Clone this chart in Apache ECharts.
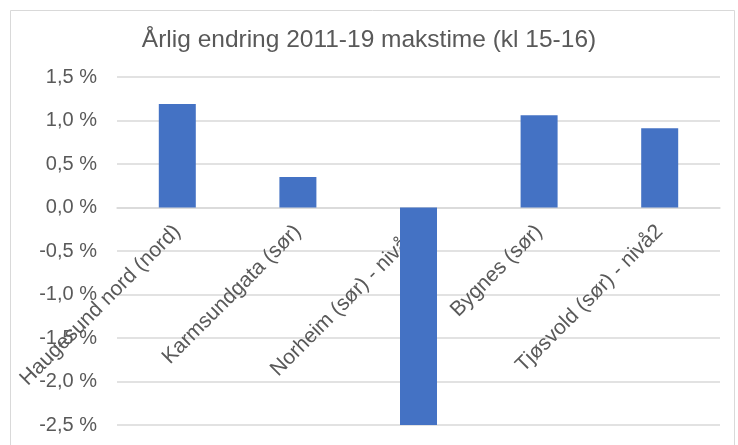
<!DOCTYPE html>
<html>
<head>
<meta charset="utf-8">
<script src="https://cdn.jsdelivr.net/npm/echarts@6/dist/echarts.min.js"></script>
<style>html,body{margin:0;padding:0;background:#fff}#c{width:738px;height:445px}</style>
</head>
<body>
<div id="c"></div>
<script>
const titleText = 'Årlig endring 2011-19 makstime (kl 15-16)';
const categories = ['Haugesund nord (nord)', 'Karmsundgata (sør)', 'Norheim (sør) - nivå 1', 'Bygnes (sør)', 'Tjøsvold (sør) - nivå2'];
const values = [1.19, 0.35, -2.5, 1.06, 0.91];
const yMin = -2.5, yMax = 1.5, yStep = 0.5;

const W = 738, H = 445;
const gTop = 77, gBottom = 20;
const gHeight = H - gTop - gBottom;
const zeroPx = gTop + gHeight * (yMax / (yMax - yMin));
const labelOffset = -((H - gBottom) - zeroPx);

const chart = echarts.init(document.getElementById('c'));
const font = 'Liberation Sans, Arial, sans-serif';
chart.setOption({
  animation: false,
  backgroundColor: '#ffffff',
  graphic: [{
    type: 'rect', left: 8, top: 8, silent: true,
    shape: { width: 724, height: 440 },
    style: { fill: 'none', stroke: '#d9d9d9', lineWidth: 1 }
  }],
  title: {
    text: titleText, left: 'center', top: 23,
    textStyle: { fontFamily: font, fontSize: 24.5, fontWeight: 'normal', color: '#595959' }
  },
  grid: { left: 117, right: 18, top: gTop, bottom: gBottom, containLabel: false, outerBoundsMode: 'none' },
  xAxis: [{
    type: 'category', data: categories,
    axisLine: { onZero: true, lineStyle: { color: '#d9d9d9', width: 1.5 } },
    axisTick: { show: false },
    axisLabel: { show: false },
    z: 1
  }, {
    type: 'category', data: categories, position: 'bottom', offset: labelOffset,
    axisLine: { show: false, onZero: false },
    axisTick: { show: false },
    splitLine: { show: false },
    axisLabel: { rotate: 45, margin: 21, interval: 0, fontFamily: font, fontSize: 21, color: '#595959' },
    z: 1
  }],
  yAxis: {
    type: 'value', min: yMin, max: yMax, interval: yStep,
    axisLine: { show: false }, axisTick: { show: false },
    splitLine: { lineStyle: { color: '#d9d9d9', width: 1.5 } },
    axisLabel: {
      margin: 20, fontFamily: font, fontSize: 20, color: '#595959',
      formatter: v => v.toFixed(1).replace('.', ',') + ' %'
    }
  },
  series: [{
    type: 'bar', data: values, barWidth: 37, z: 5, xAxisIndex: 0,
    itemStyle: { color: '#4472C4' }
  }]
});
</script>
</body>
</html>
